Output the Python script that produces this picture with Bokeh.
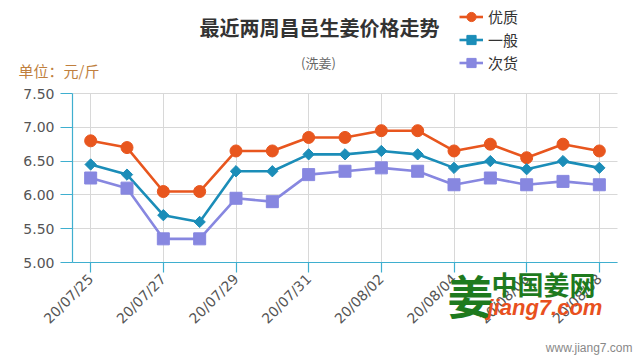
import math
from bokeh.plotting import figure
from bokeh.models import (Label, Legend, LegendItem, FixedTicker, Range1d, Grid)
from bokeh.embed import file_html
from bokeh.resources import INLINE

dates = ["20/07/25", "20/07/26", "20/07/27", "20/07/28", "20/07/29", "20/07/30",
         "20/07/31", "20/08/01", "20/08/02", "20/08/03", "20/08/04", "20/08/05",
         "20/08/06", "20/08/07", "20/08/08"]
youzhi = [6.80, 6.70, 6.05, 6.05, 6.65, 6.65, 6.85, 6.85, 6.95, 6.95, 6.65, 6.75, 6.55, 6.75, 6.65]
yiban = [6.45, 6.30, 5.70, 5.60, 6.35, 6.35, 6.60, 6.60, 6.65, 6.60, 6.40, 6.50, 6.38, 6.50, 6.40]
cihuo = [6.25, 6.10, 5.35, 5.35, 5.95, 5.90, 6.30, 6.35, 6.40, 6.35, 6.15, 6.25, 6.15, 6.20, 6.15]
series_names = ["优质", "一般", "次货"]
y_ticks = [5.0, 5.5, 6.0, 6.5, 7.0, 7.5]
Y_MIN, Y_MAX = 5.0, 7.5

FONT = "Noto Sans CJK SC"
TICK_FONT = "DejaVu Sans"
C1, C2, C3 = "#E8561E", "#1B8DB8", "#8787E0"
AXIS = "#3FAFCF"
W, H = 640, 360

xs = list(range(len(dates)))
X_MIN, X_MAX = -0.5, len(dates) - 0.5

# plot area inside the canvas (px): left, right, top, bottom
L, R, T, B = 72, 617, 93, 262
xpx = (R - L) / (X_MAX - X_MIN)
ypx = (B - T) / (Y_MAX - Y_MIN)
x_range = Range1d(X_MIN - L / xpx, X_MAX + (W - R) / xpx)
y_range = Range1d(Y_MIN - (H - B) / ypx, Y_MAX + T / ypx)

p = figure(width=W, height=H, output_backend="svg", toolbar_location=None,
           x_range=x_range, y_range=y_range,
           min_border=0, min_border_left=0, min_border_right=0,
           min_border_top=0, min_border_bottom=0)
p.outline_line_color = None
p.background_fill_color = "white"
p.border_fill_color = "white"

# axes at fixed locations inside the frame
xa = p.xaxis[0]
ya = p.yaxis[0]
xa.fixed_location = Y_MIN
ya.fixed_location = X_MIN
xa.bounds = (X_MIN, X_MAX)
ya.bounds = (Y_MIN, Y_MAX)
xa.ticker = FixedTicker(ticks=xs[::2])
xa.major_label_overrides = {i: dates[i] for i in xs}
xa.major_label_orientation = math.pi / 4
ya.ticker = FixedTicker(ticks=y_ticks)
ya.major_label_overrides = {v: f"{v:.2f}" for v in y_ticks}
for ax in (xa, ya):
    ax.axis_line_color = AXIS
    ax.axis_line_width = 1.2
    ax.major_tick_line_color = AXIS
    ax.major_tick_line_width = 1.2
    ax.major_tick_in = 0
    ax.minor_tick_line_color = None
    ax.major_label_text_font = TICK_FONT
    ax.major_label_text_color = "#555555"
    ax.major_label_text_font_size = "14px"
xa.major_tick_out = 10
ya.major_tick_out = 12
ya.major_label_standoff = 6
xa.major_label_standoff = 4

has_cross = "cross_bounds" in Grid.properties()
for g in p.grid:
    g.level = "underlay"
p.xgrid.ticker = FixedTicker(ticks=xs[::2])
p.ygrid.ticker = FixedTicker(ticks=y_ticks)
if has_cross:
    p.xgrid.cross_bounds = (Y_MIN, Y_MAX)
    p.ygrid.cross_bounds = (X_MIN, X_MAX)
    p.xgrid.grid_line_color = "#D8D8D8"
    p.ygrid.grid_line_color = "#D8D8D8"
else:
    p.xgrid.grid_line_color = None
    p.ygrid.grid_line_color = None
    gx = xs[::2]
    p.segment(x0=gx, x1=gx, y0=[Y_MIN] * len(gx), y1=[Y_MAX] * len(gx), line_color="#D8D8D8", line_width=1)
    p.segment(x0=[X_MIN] * len(y_ticks), x1=[X_MAX] * len(y_ticks), y0=y_ticks, y1=y_ticks,
              line_color="#D8D8D8", line_width=1)

# series
l1 = p.line(xs, youzhi, line_color=C1, line_width=2.6)
s1 = p.scatter(xs, youzhi, marker="circle", size=12, fill_color=C1, line_color=C1)
l2 = p.line(xs, yiban, line_color=C2, line_width=2.6)
s2 = p.scatter(xs, yiban, marker="square", angle=math.pi / 4, size=8, fill_color=C2, line_color=C2)
l3 = p.line(xs, cihuo, line_color=C3, line_width=2.6)
s3 = p.scatter(xs, cihuo, marker="square", size=12, fill_color=C3, line_color=C3)

# frame-relative screen coords: fx = X, fy = 360 - Y  (X, Y: page pixels)
legend = Legend(items=[LegendItem(label=series_names[0], renderers=[l1, s1]),
                       LegendItem(label=series_names[1], renderers=[l2, s2]),
                       LegendItem(label=series_names[2], renderers=[l3, s3])],
                location=(459, 360 - 74), orientation="vertical",
                background_fill_alpha=0, border_line_color=None,
                padding=0, margin=0, spacing=0, glyph_width=24, glyph_height=23,
                label_height=23, label_standoff=5,
                label_text_font=FONT, label_text_font_size="15px", label_text_color="#333333")
p.add_layout(legend, "center")


def lab(text, X, Y, size, color, align="center", style="normal", font=FONT):
    p.add_layout(Label(x=X, y=360 - Y, x_units="screen", y_units="screen", text=text,
                       text_font=font, text_font_size=size, text_color=color,
                       text_align=align, text_baseline="middle", text_font_style=style))


lab("最近两周昌邑生姜价格走势", 319, 27, "20px", "#333333", style="bold")
lab("(洗姜)", 318, 62, "13px", "#666666")
lab("单位：元/斤", 18, 70, "15px", "#C07F3E", align="left")

# watermark
lab("姜", 470, 293, "46px", "#1E7A1E", style="bold")
lab("中国姜网", 543, 283, "26px", "#1E7A1E", style="bold")
lab("jiang7.com", 487, 307, "22px", "#E8501E", align="left", style="bold italic", font="Liberation Sans")
lab("www.jiang7.com", 632, 347, "12px", "#888888", align="right", font="Liberation Sans")

open("out.html", "w").write(file_html(p, INLINE))
